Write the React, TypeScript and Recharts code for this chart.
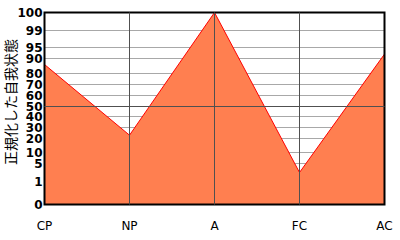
import { AreaChart, Area, XAxis, YAxis, CartesianGrid, ReferenceLine, ReferenceArea } from "recharts"

// ego states and their normalized percentile
const egoStates = ["CP", "NP", "A", "FC", "AC"]
const percentiles = [86, 23, 100, 3, 92]

// y axis is not linear: each percentile label sits on its own level
const tickLabels = [0, 1, 5, 10, 20, 30, 40, 50, 60, 70, 80, 90, 95, 99, 100]
const tickLevels = [0, 23, 41, 52, 66, 77, 88, 98, 109, 120, 131, 146, 157, 174, 192]

const toLevel = (p: number) => {
  for (let i = 1; i < tickLabels.length; i++) {
    if (p <= tickLabels[i]) {
      const t = (p - tickLabels[i - 1]) / (tickLabels[i] - tickLabels[i - 1])
      return tickLevels[i - 1] + t * (tickLevels[i] - tickLevels[i - 1])
    }
  }
  return tickLevels[tickLevels.length - 1]
}

const toLabel = (level: number) => {
  const i = tickLevels.indexOf(level)
  return i >= 0 ? String(tickLabels[i]) : ""
}

const data = egoStates.map((name, i) => ({ name, level: toLevel(percentiles[i]) }))

export default function App() {
  return (
    <div style={{ position: "absolute", left: 0, top: 0, width: 400, height: 240, background: "#fff" }}>
      <AreaChart width={400} height={240} data={data} margin={{ top: 12.5, right: 15.5, bottom: 0, left: 0.5 }}>
        <XAxis
          dataKey="name"
          axisLine={false}
          tickLine={false}
          tickMargin={11}
          height={35.5}
          interval={0}
          tick={{ fill: "#000", fontSize: 12, fontFamily: "DejaVu Sans" }}
        />
        <YAxis
          type="number"
          domain={[0, 192]}
          ticks={tickLevels}
          interval={0}
          width={44}
          axisLine={false}
          tickLine={false}
          tickSize={0}
          tickMargin={2}
          tickFormatter={toLabel}
          tick={{ fill: "#000", fontSize: 12, fontFamily: "DejaVu Sans", fontWeight: "bold" }}
          label={{
            content: () => (
              <text
                transform="translate(10,102) rotate(-90)"
                textAnchor="middle"
                dominantBaseline="central"
                fontSize={14}
                fontFamily="Noto Sans CJK JP"
                fill="#000"
              >
                正規化した自我状態
              </text>
            ),
          }}
        />
        <Area
          type="linear"
          dataKey="level"
          stroke="#ff0000"
          strokeWidth={1}
          fill="#ff7f50"
          fillOpacity={1}
          isAnimationActive={false}
        />
        <CartesianGrid vertical={false} horizontalValues={tickLevels} stroke="#a8a8a8" />
        <ReferenceLine y={98} stroke="#505050" />
        {egoStates.slice(1, -1).map((s) => (
          <ReferenceLine key={s} x={s} stroke="#505050" />
        ))}
        <ReferenceArea x1="CP" x2="AC" y1={0} y2={192} fill="none" stroke="#000" strokeWidth={2} ifOverflow="visible" />
      </AreaChart>
    </div>
  )
}
